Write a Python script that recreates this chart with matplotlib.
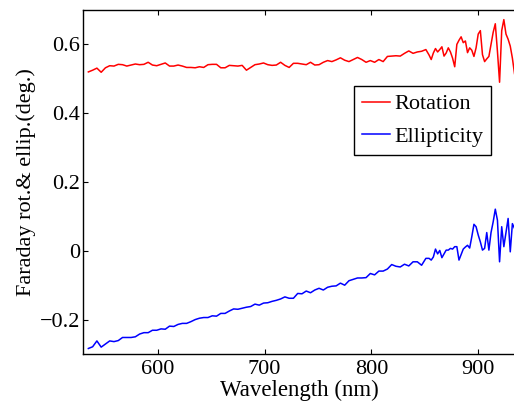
import numpy as np
import matplotlib
matplotlib.use("Agg")
import matplotlib.pyplot as plt

# wavelength grid (nm): coarse in the smooth part, finer where the signal gets noisy
wl = np.concatenate([np.arange(535, 855, 4), np.arange(854, 935, 2)])

rotation = [
    0.520, 0.525, 0.531, 0.519, 0.532, 0.538, 0.537, 0.542, 0.541, 0.537,
    0.540, 0.543, 0.541, 0.542, 0.548, 0.540, 0.538, 0.542, 0.546, 0.537,
    0.537, 0.540, 0.537, 0.533, 0.533, 0.532, 0.535, 0.533, 0.541, 0.542,
    0.542, 0.532, 0.532, 0.539, 0.538, 0.537, 0.539, 0.525, 0.533, 0.541,
    0.543, 0.546, 0.541, 0.539, 0.540, 0.548, 0.539, 0.533, 0.545, 0.545,
    0.543, 0.541, 0.548, 0.540, 0.541, 0.548, 0.553, 0.550, 0.555, 0.561,
    0.554, 0.550, 0.556, 0.562, 0.556, 0.548, 0.553, 0.548, 0.556, 0.550,
    0.565, 0.566, 0.567, 0.566, 0.574, 0.581, 0.574, 0.578, 0.580, 0.585,
    # 854 .. 934, 2 nm step
    0.569, 0.556, 0.575, 0.588, 0.578, 0.585, 0.593, 0.566, 0.575, 0.590,
    0.578, 0.560, 0.535, 0.600, 0.612, 0.622, 0.605, 0.610, 0.576, 0.590,
    0.583, 0.565, 0.590, 0.630, 0.640, 0.570, 0.550, 0.558, 0.565, 0.600,
    0.635, 0.660, 0.580, 0.490, 0.640, 0.672, 0.630, 0.615, 0.595, 0.560,
    0.515,
]

ellipticity = [
    -0.284, -0.279, -0.262, -0.280, -0.271, -0.262, -0.264, -0.261, -0.252, -0.252,
    -0.252, -0.250, -0.242, -0.238, -0.238, -0.231, -0.231, -0.227, -0.228, -0.219,
    -0.220, -0.214, -0.211, -0.211, -0.206, -0.200, -0.196, -0.194, -0.194, -0.189,
    -0.190, -0.182, -0.182, -0.175, -0.169, -0.170, -0.167, -0.164, -0.162, -0.155,
    -0.158, -0.152, -0.151, -0.147, -0.144, -0.140, -0.134, -0.138, -0.138, -0.124,
    -0.125, -0.117, -0.122, -0.114, -0.109, -0.114, -0.106, -0.103, -0.102, -0.094,
    -0.100, -0.087, -0.083, -0.079, -0.079, -0.078, -0.066, -0.070, -0.059, -0.059,
    -0.053, -0.040, -0.045, -0.047, -0.039, -0.044, -0.032, -0.032, -0.042, -0.022,
    # 854 .. 934, 2 nm step
    -0.022, -0.027, -0.018, 0.005, -0.009, 0.001, -0.020, -0.009, 0.002, 0.002,
    0.007, 0.005, 0.012, 0.012, -0.027, -0.011, 0.005, 0.011, 0.016, 0.008,
    0.041, 0.077, 0.070, 0.046, 0.026, 0.002, 0.007, 0.053, 0.002, 0.053,
    0.084, 0.121, 0.089, -0.032, 0.070, 0.012, 0.053, 0.094, -0.003, 0.079,
    0.065,
]

xticks = [600, 700, 800, 900]
yticks = [-0.2, 0, 0.2, 0.4, 0.6]
ytick_labels = ["\u22120.2", "0", "0.2", "0.4", "0.6"]

plt.rcParams["font.family"] = ["Liberation Serif", "DejaVu Serif"]
plt.rcParams["font.size"] = 16

fig = plt.figure(figsize=(5.14, 4.03), dpi=100)
ax = fig.add_axes([0.1615, 0.1216, 0.8416, 0.8536])

ax.plot(wl, rotation, color="#ff0000", lw=1.1, label="Rotation")
ax.plot(wl, ellipticity, color="#0000ff", lw=1.1, label="Ellipticity")

ax.set_xlim(530, 935)
ax.set_ylim(-0.3, 0.7)
ax.set_xticks(xticks)
ax.set_yticks(yticks)
ax.set_yticklabels(ytick_labels)
ax.tick_params(direction="in", length=3.5, width=0.8, top=True, right=False, pad=4)
ax.tick_params(axis="y", pad=2)
for s in ax.spines.values():
    s.set_linewidth(1.0)

ax.set_xlabel("Wavelength (nm)", fontsize=16.5, labelpad=1)
ax.set_ylabel("Faraday rot.& ellip.(deg.)", labelpad=3)

leg = ax.legend(loc="upper left", bbox_to_anchor=(0.627, 0.779), borderaxespad=0,
                fancybox=False, framealpha=1, edgecolor="black",
                handlelength=1.25, handletextpad=0.2, borderpad=0.35, labelspacing=0.55)
leg.get_frame().set_linewidth(1.0)

fig.savefig("out.png", dpi=100)
